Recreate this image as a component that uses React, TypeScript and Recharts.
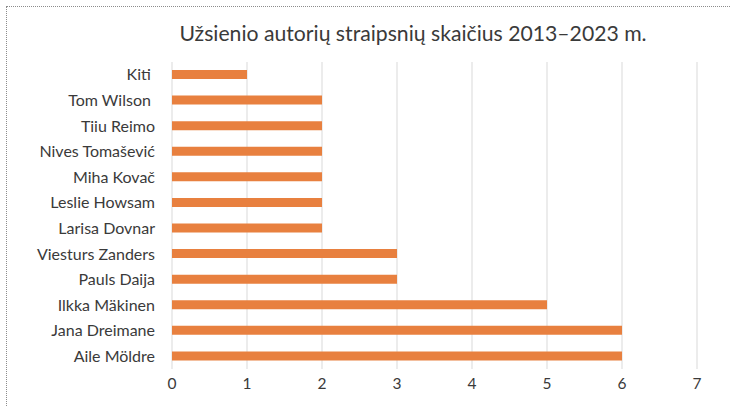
import React from 'react';
import { BarChart, Bar, XAxis, YAxis, CartesianGrid } from 'recharts';

// Authors, top to bottom as drawn
const authors = [
  'Kiti\u00a0',
  'Tom Wilson\u00a0',
  'Tiiu Reimo',
  'Nives Tomašević',
  'Miha Kovač',
  'Leslie Howsam',
  'Larisa Dovnar',
  'Viesturs Zanders',
  'Pauls Daija',
  'Ilkka Mäkinen',
  'Jana Dreimane',
  'Aile Möldre',
];
const articleCounts = [1, 2, 2, 2, 2, 2, 2, 3, 3, 5, 6, 6];
const xTicks = [0, 1, 2, 3, 4, 5, 6, 7];

const data = authors.map((name, i) => ({ name, value: articleCounts[i] }));

const FONT = 'Lato, "Open Sans", sans-serif';
const TEXT = '#3a3a3a';

const App = () => {
  return (
    <div style={{ position: 'absolute', left: 0, top: 0, width: 731, height: 407, overflow: 'hidden', background: '#fff' }}>
      {/* dotted frame of the chart object */}
      <div
        style={{
          position: 'absolute',
          left: 6,
          top: 6,
          width: 740,
          height: 420,
          border: '1px dotted #8c8c8c',
          boxSizing: 'border-box',
        }}
      />
      <div
        style={{
          position: 'absolute',
          left: 0,
          top: 18,
          width: 826,
          textAlign: 'center',
          fontFamily: FONT,
          fontSize: 21.2,
          color: TEXT,
          lineHeight: '30px',
        }}
      >
        Užsienio autorių straipsnių skaičius 2013–2023 m.
      </div>
      <div style={{ position: 'absolute', left: 0, top: 0 }}>
        <BarChart
          width={731}
          height={407}
          data={data}
          layout="vertical"
          margin={{ top: 62, right: 34, left: 0, bottom: 8 }}
        >
          <CartesianGrid horizontal={false} stroke="#d9d9d9" strokeWidth={1} />
          <XAxis
            type="number"
            domain={[0, 7]}
            ticks={xTicks}
            axisLine={false}
            tickLine={false}
            tickMargin={3}
            height={30}
            tick={{ fill: TEXT, fontSize: 15.5, fontFamily: FONT }}
          />
          <YAxis
            type="category"
            dataKey="name"
            width={172}
            axisLine={false}
            tickLine={false}
            tickMargin={11}
            interval={0}
            tick={{ fill: TEXT, fontSize: 16, fontFamily: FONT }}
          />
          <Bar dataKey="value" fill="#e8803f" barSize={9} isAnimationActive={false} />
        </BarChart>
      </div>
    </div>
  );
};

export default App;
